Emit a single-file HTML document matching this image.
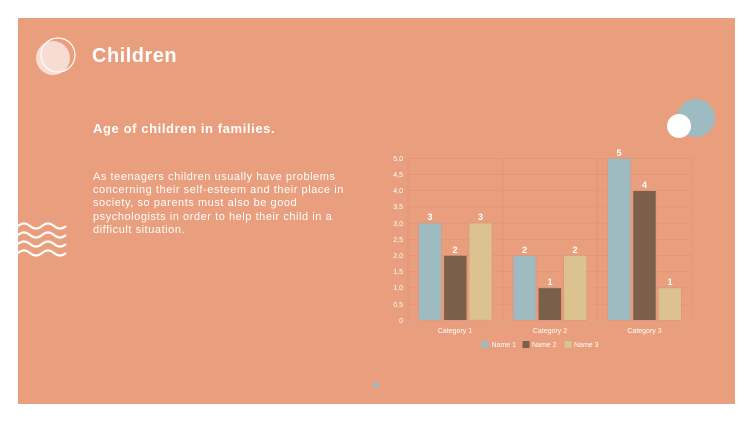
<!DOCTYPE html>
<html><head><style>
body{margin:0;width:753px;height:424px;background:#fff;position:relative;overflow:hidden;font-family:"Liberation Sans",sans-serif}
.slide{position:absolute;left:18px;top:18px;width:717px;height:386px;background:#e99e7d}
.t{position:absolute;color:#fff;white-space:nowrap}
</style></head><body>
<div class="slide"></div>
<svg width="753" height="424" style="position:absolute;left:0;top:0">
<circle cx="53" cy="58" r="17" fill="#f6dcd2"/>
<circle cx="58" cy="55" r="17" fill="none" stroke="#fff" stroke-width="1.2"/>
<circle cx="696" cy="118" r="19" fill="#9dbbc0"/>
<circle cx="679" cy="126" r="12" fill="#fff"/>
<circle cx="376" cy="385" r="3" fill="#9dbbc0"/>
<g fill="none" stroke="#fff" stroke-width="2.2">
<path d="M18 226 q6 -5 12 0 t12 0 t12 0 t12 0"/>
<path d="M18 235 q6 -5 12 0 t12 0 t12 0 t12 0"/>
<path d="M18 244 q6 -5 12 0 t12 0 t12 0 t12 0"/>
<path d="M18 253 q6 -5 12 0 t12 0 t12 0 t12 0"/>
</g>
<g stroke="#e19376" stroke-width="0.7">
<line x1="408" y1="158.3" x2="692" y2="158.3"/><line x1="408" y1="174.5" x2="692" y2="174.5"/>
<line x1="408" y1="190.7" x2="692" y2="190.7"/><line x1="408" y1="206.9" x2="692" y2="206.9"/>
<line x1="408" y1="223.1" x2="692" y2="223.1"/><line x1="408" y1="239.3" x2="692" y2="239.3"/>
<line x1="408" y1="255.5" x2="692" y2="255.5"/><line x1="408" y1="271.7" x2="692" y2="271.7"/>
<line x1="408" y1="287.9" x2="692" y2="287.9"/><line x1="408" y1="304.1" x2="692" y2="304.1"/>
<line x1="408" y1="158" x2="408" y2="320"/><line x1="502.7" y1="158" x2="502.7" y2="320"/>
<line x1="597.3" y1="158" x2="597.3" y2="320"/><line x1="692" y1="158" x2="692" y2="320"/>
</g>
<line x1="408" y1="320.3" x2="692" y2="320.3" stroke="#d9a896" stroke-width="1"/>
<g font-size="7" fill="#fff" text-anchor="end">
<text x="403" y="161">5,0</text><text x="403" y="177">4,5</text><text x="403" y="193">4,0</text><text x="403" y="209">3,5</text><text x="403" y="226">3,0</text><text x="403" y="242">2,5</text><text x="403" y="258">2,0</text><text x="403" y="274">1,5</text><text x="403" y="290">1,0</text><text x="403" y="307">0,5</text><text x="403" y="323">0</text>
</g>
<g stroke="#e0927a" stroke-width="0.6">
<rect x="418.5" y="223.1" width="23" height="97" fill="#9dbbc0"/>
<rect x="443.8" y="255.5" width="23" height="64.8" fill="#7a604a"/>
<rect x="469" y="223.1" width="23" height="97" fill="#dcc28e"/>
<rect x="513" y="255.5" width="23" height="64.8" fill="#9dbbc0"/>
<rect x="538.3" y="287.9" width="23" height="32.4" fill="#7a604a"/>
<rect x="563.7" y="255.5" width="23" height="64.8" fill="#dcc28e"/>
<rect x="607.7" y="158.3" width="23" height="162" fill="#9dbbc0"/>
<rect x="633" y="190.7" width="23" height="129.6" fill="#7a604a"/>
<rect x="658.3" y="287.9" width="23" height="32.4" fill="#dcc28e"/>
</g>
<g font-size="9" font-weight="bold" fill="#fff" text-anchor="middle">
<text x="430" y="220">3</text><text x="455" y="253">2</text><text x="480.5" y="220">3</text>
<text x="524.5" y="253">2</text><text x="550" y="285">1</text><text x="575" y="253">2</text>
<text x="619" y="156">5</text><text x="644.5" y="188">4</text><text x="670" y="285">1</text>
</g>
<g font-size="7" fill="#fff" text-anchor="middle">
<text x="455" y="333">Category 1</text><text x="550" y="333">Category 2</text><text x="644.5" y="333">Category 3</text>
</g>
<g font-size="7" fill="#fff">
<rect x="481.5" y="341" width="7" height="7" fill="#9dbbc0"/><text x="491.5" y="347">Name 1</text>
<rect x="522.5" y="341" width="7" height="7" fill="#7a604a"/><text x="532" y="347">Name 2</text>
<rect x="564.5" y="341" width="7" height="7" fill="#dcc28e"/><text x="574" y="347">Name 3</text>
</g>
</svg>
<div class="t" style="left:92px;top:45px;font-size:20px;font-weight:bold;letter-spacing:0.5px">Children</div>
<div class="t" style="left:93px;top:121px;font-size:13px;font-weight:bold;letter-spacing:0.6px">Age of children in families.</div>
<div class="t" style="left:93px;top:171px;font-size:11px;line-height:13.2px;letter-spacing:0.55px">As teenagers children usually have problems<br>concerning their self-esteem and their place in<br>society, so parents must also be good<br>psychologists in order to help their child in a<br>difficult situation.</div>
</body></html>
